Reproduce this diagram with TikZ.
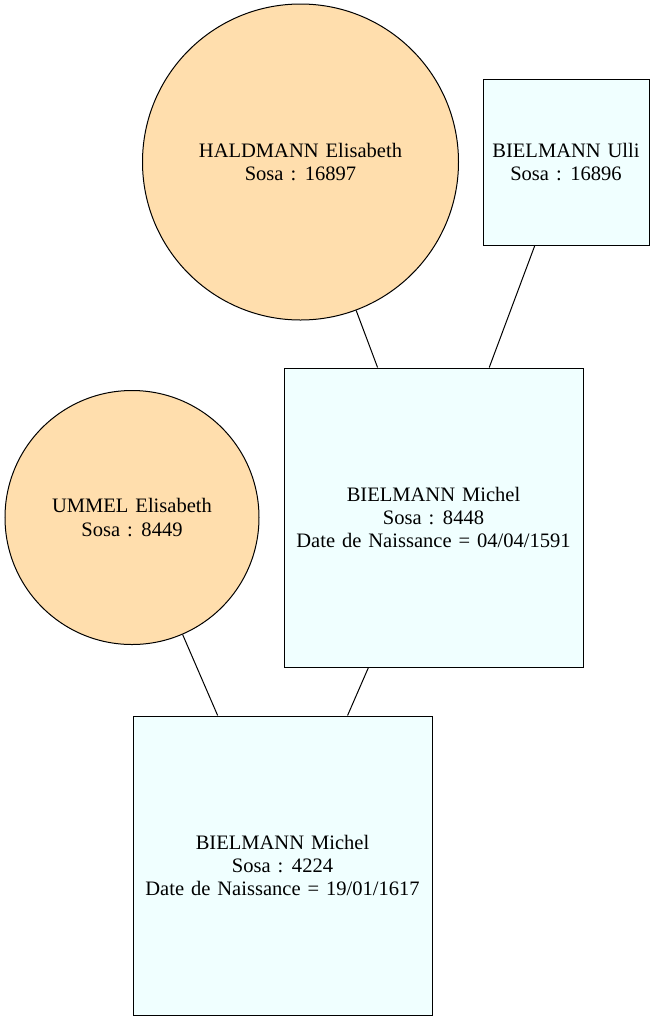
\documentclass[tikz,border=0pt]{standalone}
\usepackage{fontspec}
\setmainfont{Liberation Serif}
\usepackage{tikz}
\usetikzlibrary{calc,positioning}
\definecolor{navajo}{HTML}{FFDEAD}
\definecolor{azurebox}{HTML}{F0FFFF}
\newcommand{\namefont}{\fontsize{15.4pt}{17.5pt}\selectfont\spaceskip=5.2pt plus 1pt\relax}

\begin{document}
\begin{tikzpicture}[x=0.75pt,y=-0.75pt,font=\namefont]

\tikzset{femalenode/.style={fill=navajo,draw=black,line width=0.75pt,inner sep=0pt,shape=circle,align=center},
malenode/.style={fill=azurebox,draw=black,line width=0.75pt,inner sep=0pt,shape=rectangle,align=center},
link/.style={line width=0.75pt}}

\useasboundingbox (0,0) rectangle (655,1022);

% Ancestors
\node (haldmann) [femalenode,minimum size=237pt] at (300.5,162) {HALDMANN Elisabeth\\Sosa : 16897};
\node (ulli) [malenode,minimum size=124.5pt] at (566,162) {BIELMANN Ulli\\Sosa : 16896};
\node (ummel) [femalenode,minimum size=190.5pt] at (132,517.5) {UMMEL Elisabeth\\Sosa : 8449};

% Descendants
\node (michelA) [malenode,minimum size=224.25pt] at (433.5,517.5) {BIELMANN Michel\\Sosa : 8448\\Date de Naissance = 04/04/1591};
\node (michelB) [malenode,minimum size=224.25pt] at (282.5,865.5) {BIELMANN Michel\\Sosa : 4224\\Date de Naissance = 19/01/1617};

% Edges
\draw[link] (haldmann) -- (michelA);
\draw[link] (ulli) -- (michelA);
\draw[link] (ummel) -- (michelB);
\draw[link] (michelA) -- (michelB);

\end{tikzpicture}
\end{document}
